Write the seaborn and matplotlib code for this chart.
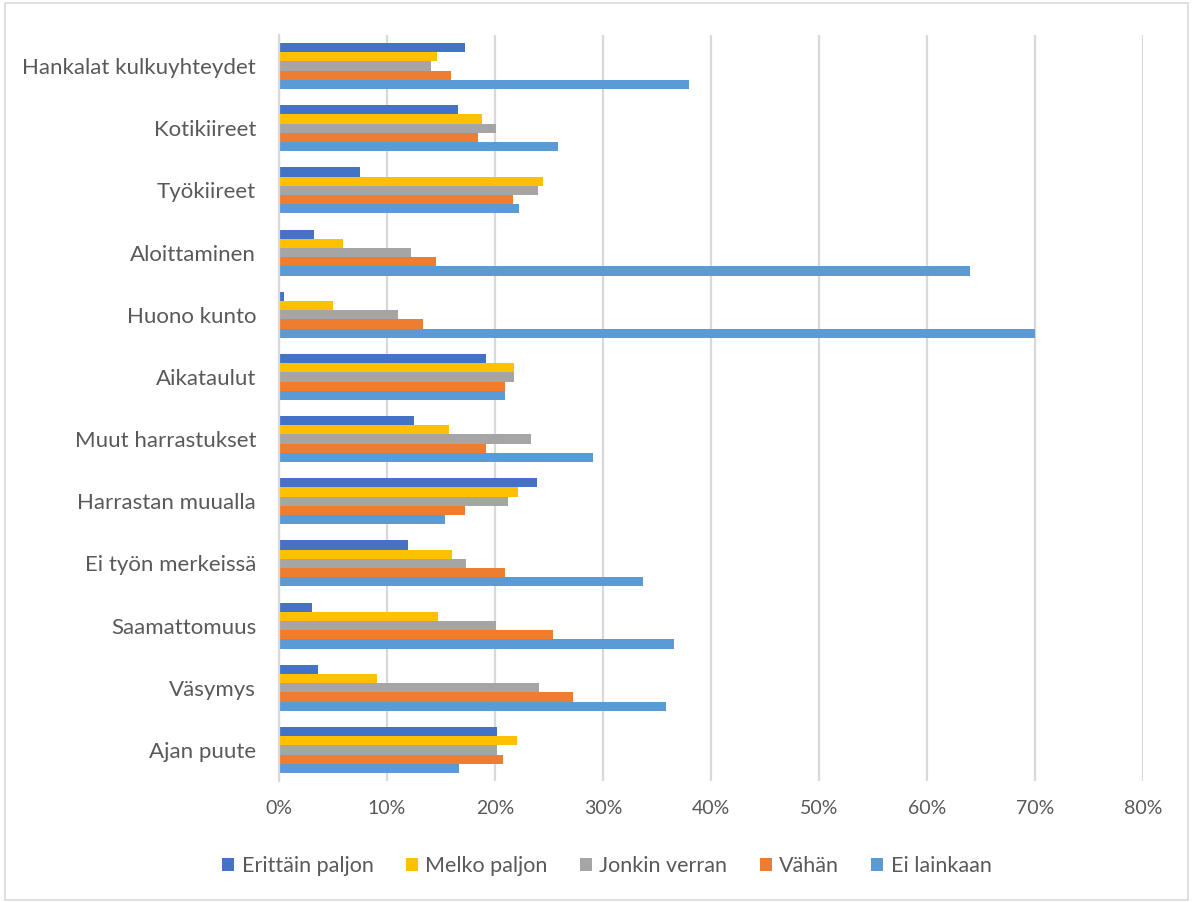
import matplotlib
matplotlib.use("Agg")
import matplotlib.pyplot as plt
from matplotlib.patches import Rectangle
from matplotlib.ticker import FuncFormatter
import seaborn as sns
import pandas as pd

categories = [
    "Hankalat kulkuyhteydet", "Kotikiireet", "Työkiireet", "Aloittaminen",
    "Huono kunto", "Aikataulut", "Muut harrastukset", "Harrastan muualla",
    "Ei työn merkeissä", "Saamattomuus", "Väsymys", "Ajan puute",
]
series = ["Erittäin paljon", "Melko paljon", "Jonkin verran", "Vähän", "Ei lainkaan"]

erittain_paljon = [17.2, 16.6, 7.5, 3.2, 0.45, 19.2, 12.5, 23.9, 11.9, 3.1, 3.65, 20.2]
melko_paljon = [14.6, 18.8, 24.4, 5.9, 5.0, 21.8, 15.7, 22.1, 16.0, 14.7, 9.1, 22.0]
jonkin_verran = [14.1, 20.1, 24.0, 12.2, 11.0, 21.8, 23.3, 21.2, 17.3, 20.1, 24.1, 20.2]
vahan = [15.9, 18.4, 21.7, 14.5, 13.3, 20.9, 19.2, 17.2, 20.9, 25.4, 27.2, 20.7]
ei_lainkaan = [38.0, 25.8, 22.2, 64.0, 70.0, 20.9, 29.1, 15.4, 33.7, 36.6, 35.8, 16.7]

colors = ["#4472C4", "#FFC000", "#A5A5A5", "#ED7D31", "#5B9BD5"]

values = [erittain_paljon, melko_paljon, jonkin_verran, vahan, ei_lainkaan]
rows = []
for s, vals in zip(series, values):
    for c, v in zip(categories, vals):
        rows.append({"Syy": c, "Vastaus": s, "Osuus": v})
df = pd.DataFrame(rows)

sns.set_theme(style="white")
plt.rcParams["font.family"] = ["Lato", "DejaVu Sans"]

fig = plt.figure(figsize=(11.92, 9.02), dpi=100)
ax = fig.add_axes([279 / 1192, 1 - 781 / 902, (1143 - 279) / 1192, (781 - 35) / 902])

sns.barplot(
    data=df, x="Osuus", y="Syy", hue="Vastaus", order=categories,
    hue_order=series, palette=colors, orient="h", width=0.74,
    errorbar=None, ax=ax, saturation=1, edgecolor="none", legend=True,
)

ax.set_xlim(0, 80)
ax.set_xticks(range(0, 81, 10))
ax.xaxis.set_major_formatter(FuncFormatter(lambda v, p: f"{int(v)}%"))
ax.set_xlabel("")
ax.set_ylabel("")
ax.grid(axis="x", color="#d9d9d9", linewidth=1.6)
ax.set_axisbelow(True)
for side in ["top", "right", "bottom"]:
    ax.spines[side].set_visible(False)
ax.spines["left"].set_color("#d9d9d9")
ax.spines["left"].set_linewidth(1.6)
ax.tick_params(axis="x", length=0, pad=14, labelsize=14, labelcolor="#595959")
ax.tick_params(axis="y", length=0, pad=16.5, labelsize=16, labelcolor="#595959")

handles, labels = ax.get_legend_handles_labels()
ax.legend_.remove()
fig.legend(
    handles, labels, loc="center", bbox_to_anchor=(607 / 1192, 1 - 866 / 902),
    ncol=5, frameon=False, fontsize=15.5, labelcolor="#595959",
    handlelength=0.55, handleheight=0.55, handletextpad=0.35, columnspacing=1.5,
)

fig.patches.append(Rectangle((0.004, 0.002), 0.993, 0.995, transform=fig.transFigure,
                             fill=False, edgecolor="#d9d9d9", linewidth=1.2))

fig.savefig("out.png", dpi=100, facecolor="white")
